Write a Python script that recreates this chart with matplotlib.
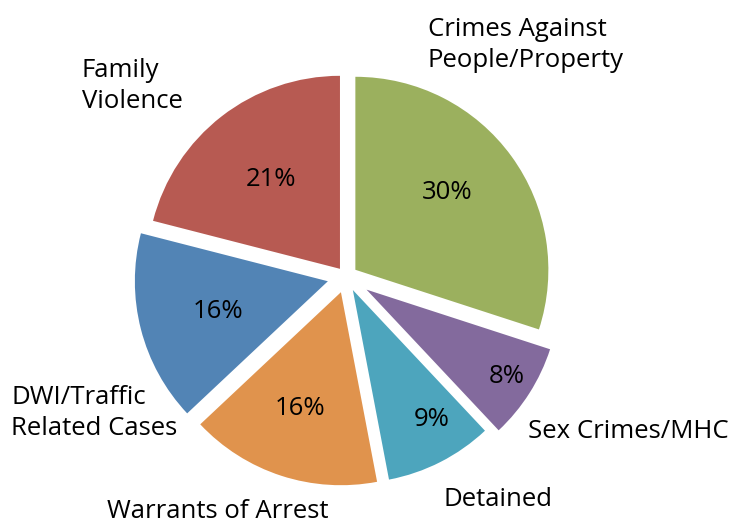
import matplotlib
matplotlib.use("Agg")
from matplotlib import pyplot as plt

# slice data, clockwise from 12 o'clock
categories = [
    "Crimes Against\nPeople/Property",
    "Sex Crimes/MHC",
    "Detained",
    "Warrants of Arrest",
    "DWI/Traffic\nRelated Cases",
    "Family\nViolence",
]
shares = [30, 8, 9, 16, 16, 21]
colors = ["#9BB05E", "#836A9D", "#4DA5BD", "#E0934D", "#5284B5", "#B75A52"]

# layout (pixel units, y measured from top of image)
W, H = 733, 523
center = (346, H - 276.6)
radius = 193
# how far each slice is pulled out, as a fraction of the radius
explode_frac = [0.06, 0.126, 0.078, 0.085, 0.097, 0.051]
# left x / baseline of last line for category labels
label_pos = [(428, 67), (528, 438), (443, 506), (107, 518), (11, 435), (82, 108)]
# center x / baseline for the percentages
pct_pos = [(447, 199), (507, 383), (432, 426), (300, 415), (218, 318), (271, 186)]

plt.rcParams["font.family"] = ["Open Sans", "DejaVu Sans"]
fsize = 18.5

fig = plt.figure(figsize=(W / 100, H / 100), dpi=100)
ax = fig.add_axes([0, 0, 1, 1])
ax.pie(
    shares,
    colors=colors,
    startangle=90,
    counterclock=False,
    explode=[e * radius for e in explode_frac],
    radius=radius,
    center=center,
    wedgeprops=dict(linewidth=0),
)
ax.set_xlim(0, W)
ax.set_ylim(0, H)
ax.axis("off")

for text, (x, y) in zip(categories, label_pos):
    ax.text(x, H - y, text, ha="left", va="baseline", fontsize=fsize,
            multialignment="left", linespacing=1.3, color="black")

for v, (x, y) in zip(shares, pct_pos):
    ax.text(x, H - y, "%d%%" % v, ha="center", va="baseline",
            fontsize=fsize, color="black")

fig.savefig("out.png", dpi=100, facecolor="white")
